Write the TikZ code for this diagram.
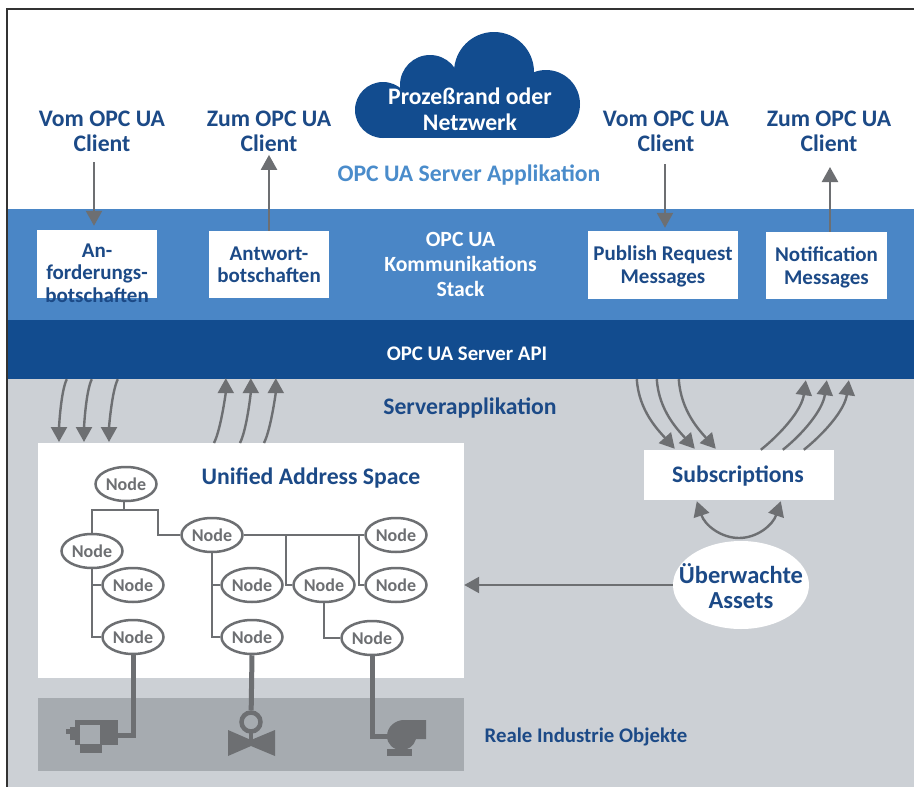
\documentclass[tikz,border=0pt]{standalone}
\usepackage{fontspec}
\setmainfont{Carlito}
\usetikzlibrary{arrows.meta, positioning, shapes.geometric, calc}
\definecolor{midblue}{HTML}{4A86C6}
\definecolor{darkblue}{HTML}{124C8F}
\definecolor{inkblue}{HTML}{1C4A87}
\definecolor{lightink}{HTML}{4A8CCB}
\definecolor{panel}{HTML}{CCD0D5}
\definecolor{plant}{HTML}{A6ABB0}
\definecolor{wirecol}{HTML}{6D6F72}
\tikzset{
  band/.style={inner sep=0pt, minimum width=907pt},
  whitebox/.style={fill=white, inner sep=0pt},
  heading/.style={align=center, text=inkblue, font=\fontsize{23.7}{25}\selectfont\bfseries},
  boxtext/.style={align=center, text=inkblue, font=\fontsize{21}{22.5}\selectfont\bfseries},
  opcnode/.style={ellipse, draw=wirecol, fill=white, line width=2.5pt, inner sep=0pt, minimum width=61pt, minimum height=34pt, text=wirecol, font=\fontsize{18}{18}\selectfont\bfseries},
  wire/.style={draw=wirecol, line width=2.5pt},
  thickwire/.style={draw=wirecol, line width=5pt},
  flow/.style={draw=wirecol, line width=2.4pt, -{Triangle[width=16pt,length=15pt]}},
  flowboth/.style={draw=wirecol, line width=2.4pt, {Triangle[width=16pt,length=15pt]}-{Triangle[width=16pt,length=15pt]}}
}
\begin{document}
\begin{tikzpicture}[x=1pt, y=-1pt]
\useasboundingbox (0,0) rectangle (914,787);
\fill[white] (0,0) rectangle (914,787);
% bands
\node[band, fill=midblue, minimum height=111pt, text=white, align=center, font=\fontsize{21.7}{25}\selectfont\bfseries] (stack) at (460.5,264.5) {OPC UA\\Kommunikations\\Stack};
\node[band, fill=darkblue, minimum height=59pt] (api) at (460.5,349.5) {};
\node[band, fill=panel, minimum height=408pt] (app) at (460.5,583) {};
\node[text=white, font=\fontsize{20.8}{21}\selectfont\bfseries] (apilabel) at (467,354) {OPC UA Server API};
\draw[black!80, line width=1.5pt] (7,787) -- (7,9) -- (914,9);
% cloud
\fill[darkblue] (383,110) circle (28);
\fill[darkblue] (430,85) circle (30);
\fill[darkblue] (494,72) circle (40);
\fill[darkblue] (546,104) circle (34);
\fill[darkblue] (383,90) rectangle (546,138);
\node[align=center, text=white, font=\fontsize{23.7}{26}\selectfont\bfseries] (cloud) at (470,109) {Prozeßrand oder\\Netzwerk};
% top labels
\node[heading] (vom1) at (102,131) {Vom OPC UA\\Client};
\node[heading] (zum1) at (269,131) {Zum OPC UA\\Client};
\node[heading] (vom2) at (666,131) {Vom OPC UA\\Client};
\node[heading] (zum2) at (829,131) {Zum OPC UA\\Client};
\node[heading, text=lightink] (srvapp) at (469,175) {OPC UA Server Applikation};
\node[heading] (srvlabel) at (470,408) {Serverapplikation};
% message boxes
\node[whitebox, minimum width=120pt, minimum height=68pt] (req) at (97,264) {};
\node[whitebox, minimum width=120pt, minimum height=67pt] (resp) at (269,264.5) {};
\node[whitebox, minimum width=150pt, minimum height=68pt] (pub) at (663,265) {};
\node[whitebox, minimum width=121pt, minimum height=67pt] (note) at (826.5,265.5) {};
\node[boxtext] (reqlabel) at (97,273) {An-\\forderungs-\\botschaften};
\node[boxtext] (resplabel) at (269,265) {Antwort-\\botschaften};
\node[boxtext] (publabel) at (663,266.5) {Publish Request\\Messages};
\node[boxtext] (notelabel) at (826.5,267.5) {Notification\\Messages};
\draw[flow, shorten >=4pt] (94,162) -- (req.north -| 94,0);
\draw[flow] (resp.north) -- (zum1.south);
\draw[flow, shorten >=3pt] (665,164) -- (pub.north -| 665,0);
\draw[flow] (note.north -| 830,0) -- (830,167);
% address space
\node[whitebox, minimum width=426pt, minimum height=235pt] (uas) at (251,560.5) {};
\node[whitebox, fill=plant, minimum width=426pt, minimum height=73pt] (plantband) at (251,734.5) {};
\node[heading] (uaslabel) at (311,478) {Unified Address Space};
\node[heading, font=\fontsize{20.8}{22}\selectfont\bfseries] (plantlabel) at (586,737) {Reale Industrie Objekte};
\node[whitebox, minimum width=190pt, minimum height=50pt] (subs) at (739,475) {};
\node[heading] (subslabel) at (738,476) {Subscriptions};
\node[ellipse, fill=white, inner sep=0pt, minimum width=136pt, minimum height=88pt] (assets) at (741,585) {};
\node[heading, font=\fontsize{24.5}{25}\selectfont\bfseries] (assetslabel) at (741,586) {Überwachte\\Assets};
% nodes
\node[opcnode] (n1) at (126,484) {Node};
\node[opcnode] (n2) at (92,551) {Node};
\node[opcnode] (n3) at (133,585) {Node};
\node[opcnode] (n4) at (133,637) {Node};
\node[opcnode] (n5) at (212,535) {Node};
\node[opcnode] (n6) at (252,585) {Node};
\node[opcnode] (n7) at (252,637) {Node};
\node[opcnode] (n8) at (324,585) {Node};
\node[opcnode] (n9) at (372,638) {Node};
\node[opcnode] (n10) at (396,535) {Node};
\node[opcnode] (n11) at (396,585) {Node};
\coordinate (bus) at (124,510);
\coordinate (busr) at (158,535);
\coordinate (tee1) at (286,535);
\coordinate (tee2) at (359,535);
\draw[wire] (n1.south -| bus) -- (bus);
\draw[wire] (n2.north) |- (bus);
\draw[wire] (bus) -| (busr) -- (n5.west);
\draw[wire] (n2.south) |- (n3.west);
\draw[wire] (n2.south) |- (n4.west);
\draw[wire] (n5.south) |- (n6.west);
\draw[wire] (n5.south) |- (n7.west);
\draw[wire] (n5.east) -- (n10.west);
\draw[wire] (tee1) |- (n8.west);
\draw[wire] (tee2) |- (n11.west);
\draw[wire] (n8.south) |- (n9.west);
% plant objects
\coordinate (motorin) at (118,735.5);
\coordinate (pumpin) at (390,736);
\fill[wirecol] (75,720) rectangle (118,745);
\fill[wirecol] (70,727) rectangle (75,740);
\fill[wirecol] (66,729) rectangle (70,734);
\fill[wirecol] (80,745) rectangle (102,753);
\fill[plant] (80,725) rectangle (100,744);
\node[circle, draw=wirecol, line width=4.5pt, inner sep=0pt, minimum size=19pt] (ring) at (251,722) {};
\fill[wirecol] (249,730) rectangle (253,742);
\fill[wirecol] (228,730) -- (251,740) -- (275,730) -- (275,756) -- (251,746) -- (228,756) -- cycle;
\fill[wirecol] (387,736) .. controls (387,727) and (395,720) .. (404,720) -- (426,720) -- (426,739) -- (416,739) .. controls (414,746) and (408,750) .. (402,750) .. controls (393,750) and (387,744) .. (387,736) -- cycle;
\fill[wirecol] (387,749) rectangle (412,756);
\draw[thickwire] (n4.south) |- (motorin);
\draw[thickwire] (n7.south) -- (ring);
\draw[thickwire] (n9.south) |- (pumpin);
% triple flows
\draw[flow] ($(api.south west)+(60,0)$) .. controls +(-6,12) and +(0,-14) .. (59,442);
\draw[flow] ($(api.south west)+(85,0)$) .. controls +(-6,12) and +(0,-14) .. (84,442);
\draw[flow] ($(api.south west)+(111,0)$) .. controls +(-6,12) and +(0,-14) .. (109,442);
\draw[flow] (214,443) .. controls +(7,-14) and +(0,14) .. ($(api.south west)+(219,-1)$);
\draw[flow] (240,443) .. controls +(7,-14) and +(0,14) .. ($(api.south west)+(244,-1)$);
\draw[flow] (264,443) .. controls +(7,-14) and +(0,14) .. ($(api.south west)+(269,-1)$);
\draw[flow] ($(api.south west)+(630,0)$) .. controls +(2,32) and +(-16,-18) .. ($(subs.north west)+(31,-1)$);
\draw[flow] ($(api.south west)+(650,0)$) .. controls +(2,32) and +(-16,-18) .. ($(subs.north west)+(51,-1)$);
\draw[flow] ($(api.south west)+(672,0)$) .. controls +(2,32) and +(-16,-18) .. ($(subs.north west)+(72,-1)$);
\draw[flow] ($(subs.north west)+(117,0)$) .. controls +(20,-16) and +(-4,30) .. ($(api.south west)+(799,1)$);
\draw[flow] ($(subs.north west)+(139,0)$) .. controls +(20,-16) and +(-4,30) .. ($(api.south west)+(820,1)$);
\draw[flow] ($(subs.north west)+(160,0)$) .. controls +(20,-16) and +(-4,30) .. ($(api.south west)+(842,1)$);
\draw[flowboth] ($(subs.south west)+(53,1)$) .. controls +(8,24) and +(-18,0) .. (739,538) .. controls +(18,0) and +(-8,24) .. ($(subs.south west)+(137,1)$);
\draw[flow] (assets.west) -- (uas.east |- assets.west);
\end{tikzpicture}
\end{document}
